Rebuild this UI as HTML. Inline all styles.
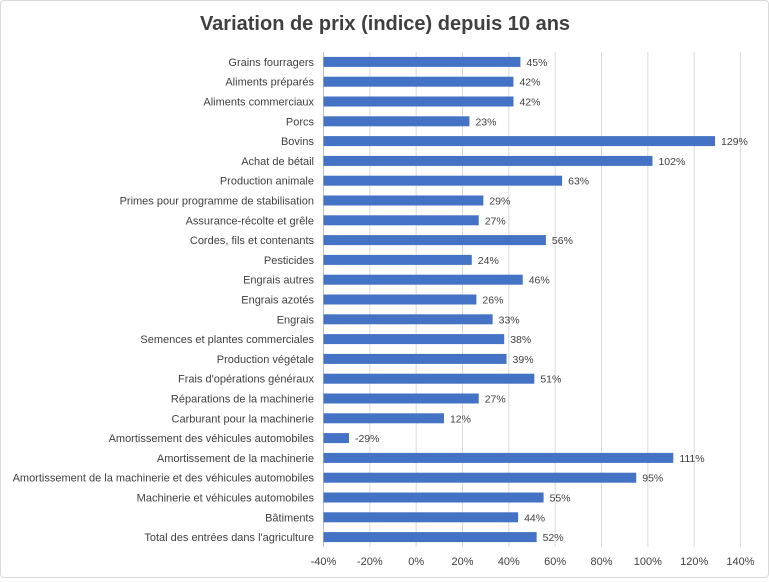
<!DOCTYPE html>
<html><head><meta charset="utf-8"><style>
body{margin:0;background:#fff;font-family:"Liberation Sans",sans-serif}
#wrap{position:relative;width:767px;height:576px;border:1px solid #d9d9d9;border-radius:4px;background:#fff}
</style></head><body>
<div id="wrap">
<svg id="chart" width="767" height="576" xmlns="http://www.w3.org/2000/svg">
<text x="384" y="29" text-anchor="middle" font-size="20" font-weight="bold" fill="#404040">Variation de prix (indice) depuis 10 ans</text>
</svg>
</div>
<script>
const categories=["Grains fourragers","Aliments préparés","Aliments commerciaux","Porcs","Bovins","Achat de bétail","Production animale","Primes pour programme de stabilisation","Assurance-récolte et grêle","Cordes, fils et contenants","Pesticides","Engrais autres","Engrais azotés","Engrais","Semences et plantes commerciales","Production végétale","Frais d'opérations généraux","Réparations de la machinerie","Carburant pour la machinerie","Amortissement des véhicules automobiles","Amortissement de la machinerie","Amortissement de la machinerie et des véhicules automobiles","Machinerie et véhicules automobiles","Bâtiments","Total des entrées dans l'agriculture"];
const values=[45,42,42,23,129,102,63,29,27,56,24,46,26,33,38,39,51,27,12,-29,111,95,55,44,52];
const ticks=[-40,-20,0,20,40,60,80,100,120,140];
const svg=document.getElementById('chart');const NS="http://www.w3.org/2000/svg";
const xMin=-40,xMax=140,x0=322.5,x1=739.5;
const X=v=>x0+(v-xMin)/(xMax-xMin)*(x1-x0);
const yTop=51,yBot=546,step=(yBot-yTop)/categories.length;
const Y=i=>yTop+step*(i+0.5);
function mk(t,a){const e=document.createElementNS(NS,t);for(const k in a)e.setAttribute(k,a[k]);svg.appendChild(e);return e;}
ticks.forEach(t=>{
 const g=mk('line',{x1:X(t),x2:X(t),y1:yTop,y2:yBot,stroke:t===xMin?'#bfbfbf':'#d9d9d9','stroke-width':1});
 
 
 const l=mk('text',{x:X(t),y:564,'text-anchor':'middle','font-size':11,fill:'#404040'});l.textContent=t+'%';
 
 
});
categories.forEach((c,i)=>{
 const y=Y(i);
 const lab=mk('text',{x:313,y:y+4,'text-anchor':'end','font-size':11,fill:'#404040'});lab.textContent=c;
 
 
 const v=values[i];
 const r=mk('rect',{x:X(xMin),y:y-5,width:X(v)-X(xMin),height:10,fill:'#4472c4'});
 
 
 const vl=mk('text',{x:X(v)+6,y:y+4,'font-size':10.5,fill:'#404040'});vl.textContent=v+'%';
 
 
});
</script>
</body></html>
